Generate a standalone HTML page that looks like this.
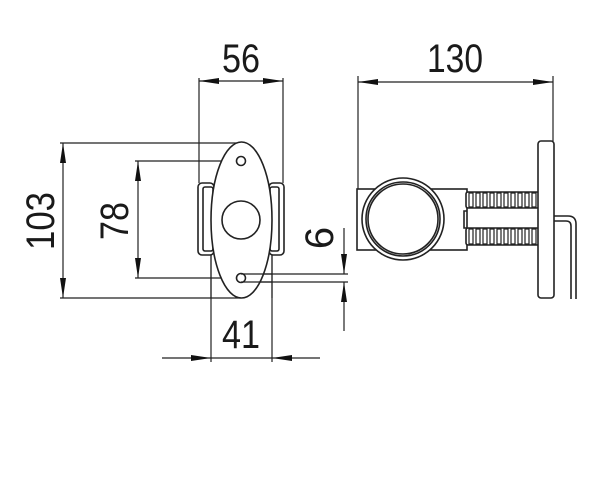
<!DOCTYPE html>
<html><head><meta charset="utf-8"><style>
html,body{margin:0;padding:0;background:#fff;}
svg{display:block;}
text{font-family:"Liberation Sans",sans-serif;font-size:40px;fill:#1a1a1a;}
</style></head><body>
<svg width="611" height="499" viewBox="0 0 611 499" xmlns="http://www.w3.org/2000/svg">
<g stroke="#222" stroke-width="1.2" fill="none">
<line x1="199" y1="78" x2="199" y2="183"/>
<line x1="283" y1="78" x2="283" y2="183"/>
<line x1="199" y1="81" x2="283" y2="81"/>
<line x1="60" y1="143" x2="241" y2="143"/>
<line x1="60" y1="298" x2="241" y2="298"/>
<line x1="63" y1="143" x2="63" y2="298"/>
<line x1="135" y1="161" x2="241" y2="161"/>
<line x1="135" y1="278" x2="241" y2="278"/>
<line x1="138" y1="161" x2="138" y2="278"/>
<line x1="241" y1="274" x2="348" y2="274"/>
<line x1="241" y1="282" x2="348" y2="282"/>
<line x1="344" y1="228" x2="344" y2="274"/>
<line x1="344" y1="282" x2="344" y2="331"/>
<line x1="211" y1="220" x2="211" y2="362"/>
<line x1="272" y1="220" x2="272" y2="362"/>
<line x1="162" y1="358" x2="320" y2="358"/>
<line x1="358" y1="76" x2="358" y2="189"/>
<line x1="553" y1="76" x2="553" y2="141"/>
<line x1="358" y1="82" x2="553" y2="82"/>
</g>
<g fill="#111">
<polygon points="199,81 219,78 219,84"/>
<polygon points="283,81 263,78 263,84"/>
<polygon points="63,143 60,163 66,163"/>
<polygon points="63,298 60,278 66,278"/>
<polygon points="138,161 135,181 141,181"/>
<polygon points="138,278 135,258 141,258"/>
<polygon points="344,274 341,254 347,254"/>
<polygon points="344,282 341,302 347,302"/>
<polygon points="211,358 191,355 191,361"/>
<polygon points="272,358 292,355 292,361"/>
<polygon points="358,82 378,79 378,85"/>
<polygon points="553,82 533,79 533,85"/>
</g>
<g stroke="#222" stroke-width="1.6" fill="#fff">
<rect x="198" y="183" width="16" height="72" rx="4"/>
<rect x="203" y="187" width="10" height="64" rx="2"/>
<rect x="269" y="183" width="15" height="72" rx="4"/>
<rect x="270" y="187" width="9" height="64" rx="2"/>
<ellipse cx="241.5" cy="220" rx="30.5" ry="78"/>
<circle cx="241" cy="220" r="19"/>
<circle cx="241" cy="161" r="4.5"/>
<circle cx="241" cy="278" r="4.5"/>
</g>
<g stroke="#222" stroke-width="1.2">
<line x1="211" y1="255" x2="211" y2="298"/>
<line x1="272" y1="255" x2="272" y2="298"/>
<line x1="241" y1="274" x2="272" y2="274"/>
<line x1="241" y1="282" x2="272" y2="282"/>
</g>
<g stroke="#222" stroke-width="1.6" fill="#fff">
<path d="M576,299 V224 Q576,216 568,216 H552 M571,299 V226 Q571,221 566,221 H552"/>
<rect x="357" y="189" width="110" height="61"/>
<circle cx="403" cy="219" r="41"/>
<circle cx="403" cy="219" r="37"/>
<circle cx="403" cy="219" r="35"/>
<path d="M467,211 H464 V228 H467" fill="none"/>
<rect x="466" y="192" width="73" height="16" rx="2"/>
<rect x="466" y="228" width="73" height="17" rx="2"/>
<rect x="538" y="141" width="16" height="157" rx="3"/>
</g>
<g stroke="#222" stroke-width="1.2" fill="none">
<path d="M469,193h4v14h-4zM476,193h4v14h-4zM483,193h4v14h-4zM490,193h4v14h-4zM497,193h4v14h-4zM504,193h4v14h-4zM511,193h4v14h-4zM518,193h4v14h-4zM525,193h4v14h-4zM532,193h4v14h-4z"/>
<path d="M469,229h4v15h-4zM476,229h4v15h-4zM483,229h4v15h-4zM490,229h4v15h-4zM497,229h4v15h-4zM504,229h4v15h-4zM511,229h4v15h-4zM518,229h4v15h-4zM525,229h4v15h-4zM532,229h4v15h-4z"/>
</g>
<text x="241" y="72" text-anchor="middle" textLength="38" lengthAdjust="spacingAndGlyphs">56</text>
<text x="455" y="72" text-anchor="middle" textLength="56" lengthAdjust="spacingAndGlyphs">130</text>
<text x="241" y="348" text-anchor="middle" textLength="38" lengthAdjust="spacingAndGlyphs">41</text>
<text transform="translate(54,221) rotate(-90)" text-anchor="middle" textLength="58" lengthAdjust="spacingAndGlyphs">103</text>
<text transform="translate(128,221) rotate(-90)" text-anchor="middle" textLength="38" lengthAdjust="spacingAndGlyphs">78</text>
<text transform="translate(333,238) rotate(-90)" text-anchor="middle">6</text>
</svg>
</body></html>
